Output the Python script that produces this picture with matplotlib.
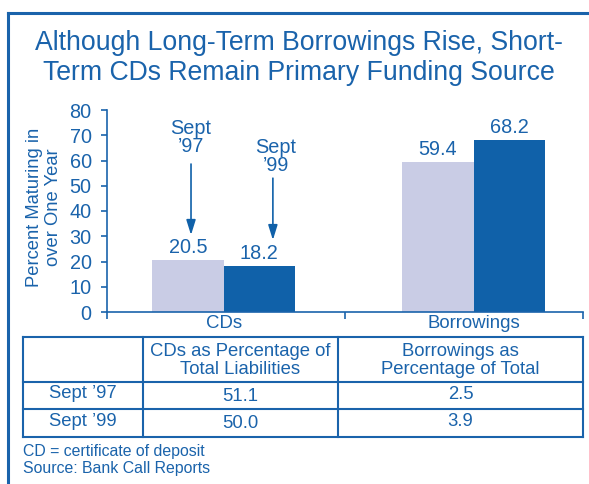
import matplotlib
matplotlib.use("Agg")
import matplotlib.pyplot as plt
from matplotlib.lines import Line2D

plt.rcParams["font.family"] = ["Liberation Sans", "DejaVu Sans"]

# --- Data -------------------------------------------------------------
categories = ["CDs", "Borrowings"]
sept97 = [20.5, 59.4]
sept99 = [18.2, 68.2]
yticks = [0, 10, 20, 30, 40, 50, 60, 70, 80]

table_cols = ["CDs as Percentage of\nTotal Liabilities",
              "Borrowings as\nPercentage of Total"]
table_rows = ["Sept \u201997", "Sept \u201999"]
cds_pct = ["51.1", "50.0"]
borrow_pct = ["2.5", "3.9"]

title = "Although Long-Term Borrowings Rise, Short-\nTerm CDs Remain Primary Funding Source"
footnote = "CD = certificate of deposit\nSource: Bank Call Reports"

# --- Styling ------------------------------------------------------------
BLUE = "#1a63ab"
DARK = "#1061a9"
LIGHT = "#c9cce5"
W, H = 589, 484
FS = 14.3    # chart text
TFS = 13.3   # table text


def fx(x):
    return x / W


def fy(y):
    return 1 - y / H


fig = plt.figure(figsize=(W / 100, H / 100), dpi=100)

# frame (only top and left edges visible)
fig.add_artist(Line2D([fx(8), fx(8)], [fy(484), fy(13)], color=BLUE, lw=2.2,
                      transform=fig.transFigure))
fig.add_artist(Line2D([fx(8), fx(589)], [fy(13), fy(13)], color=BLUE, lw=2.2,
                      transform=fig.transFigure))

fig.text(fx(299), fy(58), title, ha="center", va="center", color=BLUE,
         fontsize=19.2, linespacing=1.15)

# --- Bar chart --------------------------------------------------------
ax = fig.add_axes([fx(107), fy(312), (583 - 107) / W, (312 - 110) / H])
centers = [0.49, 1.54]
bw = 0.30
b1 = ax.bar([c - bw / 2 for c in centers], sept97, bw, color=LIGHT)
b2 = ax.bar([c + bw / 2 for c in centers], sept99, bw, color=DARK)
for bars in (b1, b2):
    for rect in bars:
        ax.annotate(f"{rect.get_height():.1f}",
                    (rect.get_x() + rect.get_width() / 2, rect.get_height()),
                    xytext=(0, 2), textcoords="offset points",
                    ha="center", va="bottom", color=BLUE, fontsize=FS)

ax.set_xlim(0, 2)
ax.set_ylim(0, 80)
ax.set_yticks(yticks)
ax.set_xticks([0, 1, 2])
ax.set_xticklabels([])
ax.set_xticks(centers, minor=True)
ax.set_xticklabels(categories, minor=True)
ax.tick_params(axis="x", which="minor", length=0, pad=2, labelsize=13.4,
               labelcolor=BLUE)
ax.tick_params(axis="x", which="major", length=5, width=1.2, color=BLUE)
ax.tick_params(axis="y", length=4, width=1.2, color=BLUE, labelcolor=BLUE,
               labelsize=FS, pad=7)
for s in ("top", "right"):
    ax.spines[s].set_visible(False)
for s in ("left", "bottom"):
    ax.spines[s].set_color(BLUE)
    ax.spines[s].set_linewidth(1.2)

# arrows with period labels
arrow_kw = dict(arrowstyle="-|>,head_length=0.9,head_width=0.28",
                color=DARK, lw=1.2, shrinkA=0, shrinkB=0)
ax.annotate("", xy=(0.353, 30.5), xytext=(0.353, 58.6), arrowprops=arrow_kw)
ax.annotate("", xy=(0.697, 28.5), xytext=(0.697, 53.0), arrowprops=arrow_kw)
ax.text(0.353, 69.0, "Sept\n\u201997", ha="center", va="center", color=BLUE,
        fontsize=FS, linespacing=0.92)
ax.text(0.71, 61.5, "Sept\n\u201999", ha="center", va="center", color=BLUE,
        fontsize=FS, linespacing=0.92)

fig.text(fx(44), fy(207), "Percent Maturing in\nover One Year", rotation=90,
         ha="center", va="center", color=BLUE, fontsize=13.2, linespacing=1.12)

# --- Table ------------------------------------------------------------
tax = fig.add_axes([fx(23), fy(437), (583 - 23) / W, (437 - 337) / H])
tax.set_xlim(23, 583)
tax.set_ylim(437, 337)
tax.axis("off")
xs = [23, 143, 338, 583]
ys = [337, 382, 409, 437]
for x in xs:
    tax.plot([x, x], [ys[0], ys[-1]], color=BLUE, lw=1.5, clip_on=False)
for y in ys:
    tax.plot([xs[0], xs[-1]], [y, y], color=BLUE, lw=1.5, clip_on=False)

col_x = [(xs[i] + xs[i + 1]) / 2 for i in range(3)]
row_y = [(ys[i] + ys[i + 1]) / 2 for i in range(3)]
for j, head in enumerate(table_cols):
    tax.text(col_x[j + 1], row_y[0] + 1, head, ha="center", va="center",
             color=BLUE, fontsize=TFS, linespacing=1.12)
for i, lab in enumerate(table_rows):
    tax.text(col_x[0], row_y[i + 1] - 2, lab, ha="center", va="center",
             color=BLUE, fontsize=TFS)
    tax.text(col_x[1], row_y[i + 1] + 1, cds_pct[i], ha="center", va="center",
             color=BLUE, fontsize=TFS)
    tax.text(col_x[2], row_y[i + 1] - 1, borrow_pct[i], ha="center", va="center",
             color=BLUE, fontsize=TFS)

fig.text(fx(23), fy(460), footnote, ha="left", va="center", color=BLUE,
         fontsize=11.4, linespacing=1.1)

fig.savefig("out.png", dpi=100)
